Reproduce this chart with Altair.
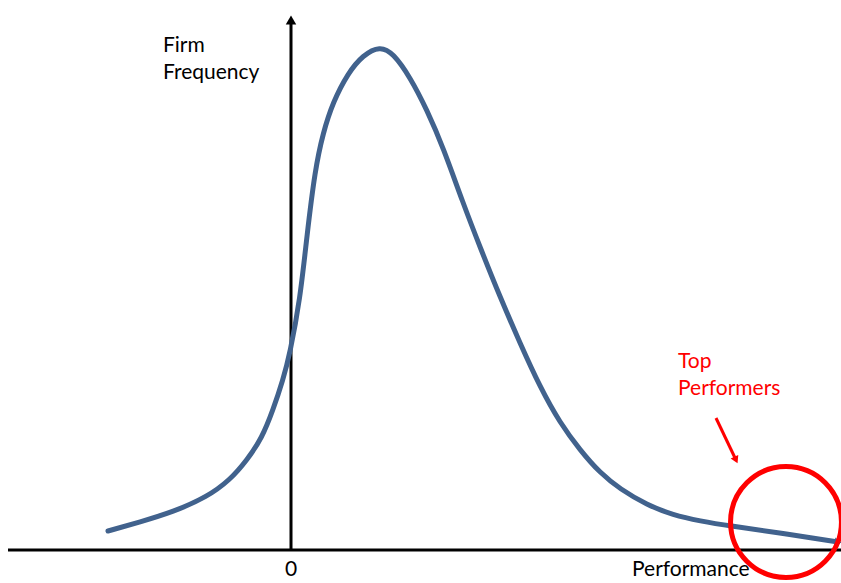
import altair as alt
import pandas as pd

# Curve (performance vs firm frequency)
perf = [-1.83, -1.51, -1.18, -0.84, -0.61, -0.44, -0.29, -0.18, -0.08, -0.01, 0.09, 0.16,
        0.24, 0.32, 0.42, 0.57, 0.72, 0.89, 1.02, 1.19, 1.36, 1.52, 1.72, 1.89,
        2.09, 2.29, 2.49, 2.69, 2.89, 3.09, 3.29, 3.56, 3.82, 4.09, 4.39, 4.89, 5.47]
freq = [0.19, 0.28, 0.38, 0.53, 0.70, 0.90, 1.12, 1.40, 1.70, 1.97, 2.50, 3.15,
        3.80, 4.17, 4.48, 4.77, 4.95, 5.04, 4.97, 4.73, 4.40, 4.03, 3.47, 3.03,
        2.53, 2.07, 1.63, 1.27, 1.00, 0.77, 0.61, 0.45, 0.35, 0.29, 0.24, 0.17, 0.08]

# Axis lines
axis_x1 = [-2.83, 0.0]
axis_x2 = [5.5, 0.0]
axis_y1 = [0.0, 0.0]
axis_y2 = [0.0, 5.30]

# Black texts
txt_label = ["Firm", "Frequency", "Performance"]
txt_x = [-1.28, -1.28, 3.41]
txt_y = [5.04, 4.77, -0.20]
zero_label = ["0"]
zero_x = [0.0]
zero_y = [-0.20]

# Red annotation
red_label = ["Top", "Performers"]
red_x = [3.87, 3.87]
red_y = [1.88, 1.61]
arrow_x1 = [4.25]
arrow_y1 = [1.32]
arrow_x2 = [4.45]
arrow_y2 = [0.90]
circle_x = [4.95]
circle_y = [0.28]

XD = [-2.91, 5.5]
YD = [-0.33, 5.5]
xs = alt.Scale(domain=XD, nice=False, zero=False)
ys = alt.Scale(domain=YD, nice=False, zero=False)

curve_df = pd.DataFrame({"perf": perf, "freq": freq, "order": range(len(perf))})
axes_df = pd.DataFrame({"x1": axis_x1, "x2": axis_x2, "y1": axis_y1, "y2": axis_y2})
txt_df = pd.DataFrame({"label": txt_label, "x": txt_x, "y": txt_y})
zero_df = pd.DataFrame({"label": zero_label, "x": zero_x, "y": zero_y})
red_df = pd.DataFrame({"label": red_label, "x": red_x, "y": red_y})
arrow_df = pd.DataFrame({"x1": arrow_x1, "y1": arrow_y1, "x2": arrow_x2, "y2": arrow_y2})
circle_df = pd.DataFrame({"x": circle_x, "y": circle_y})
ytip_df = pd.DataFrame({"x": [axis_x2[1]], "y": [axis_y2[1]]})
ctip_df = pd.DataFrame({"x": [perf[-1]], "y": [freq[-1]]})

axes = alt.Chart(axes_df).mark_rule(color="black", strokeWidth=3).encode(
    x=alt.X("x1:Q", scale=xs, axis=None), x2="x2:Q",
    y=alt.Y("y1:Q", scale=ys, axis=None), y2="y2:Q")

ytip = alt.Chart(ytip_df).mark_point(shape="triangle-up", filled=True, color="black",
                                     size=110, opacity=1).encode(
    x=alt.X("x:Q", scale=xs, axis=None), y=alt.Y("y:Q", scale=ys, axis=None))

curve = alt.Chart(curve_df).mark_line(color="#41628d", strokeWidth=5, interpolate="basis",
                                      strokeCap="round").encode(
    x=alt.X("perf:Q", scale=xs, axis=None),
    y=alt.Y("freq:Q", scale=ys, axis=None),
    order="order:Q")

ctip = alt.Chart(ctip_df).mark_point(shape="triangle-right", filled=True, color="#41628d",
                                     size=60, opacity=1, angle=10).encode(
    x=alt.X("x:Q", scale=xs, axis=None), y=alt.Y("y:Q", scale=ys, axis=None))

texts = alt.Chart(txt_df).mark_text(align="left", baseline="middle", font="Lato",
                                    fontSize=21, color="black").encode(
    x=alt.X("x:Q", scale=xs, axis=None), y=alt.Y("y:Q", scale=ys, axis=None), text="label:N")

zero = alt.Chart(zero_df).mark_text(align="center", baseline="middle", font="Lato",
                                    fontSize=21, color="black").encode(
    x=alt.X("x:Q", scale=xs, axis=None), y=alt.Y("y:Q", scale=ys, axis=None), text="label:N")

red_txt = alt.Chart(red_df).mark_text(align="left", baseline="middle", font="Lato",
                                      fontSize=21, color="#ff0000").encode(
    x=alt.X("x:Q", scale=xs, axis=None), y=alt.Y("y:Q", scale=ys, axis=None), text="label:N")

arrow = alt.Chart(arrow_df).mark_rule(color="#ff0000", strokeWidth=3).encode(
    x=alt.X("x1:Q", scale=xs, axis=None), x2="x2:Q",
    y=alt.Y("y1:Q", scale=ys, axis=None), y2="y2:Q")

arrow_head = alt.Chart(arrow_df).mark_point(shape="triangle-up", filled=True, color="#ff0000",
                                            size=70, opacity=1, angle=155).encode(
    x=alt.X("x2:Q", scale=xs, axis=None), y=alt.Y("y2:Q", scale=ys, axis=None))

circle = alt.Chart(circle_df).mark_point(shape="circle", filled=False, color="#ff0000",
                                         size=12300, strokeWidth=5, opacity=1).encode(
    x=alt.X("x:Q", scale=xs, axis=None), y=alt.Y("y:Q", scale=ys, axis=None))

chart = alt.layer(axes, ytip, curve, ctip, texts, zero, red_txt, arrow, arrow_head, circle).properties(
    width=841, height=583, padding=0, autosize=alt.AutoSizeParams(type="none"),
    background="white"
).configure_view(stroke=None)

chart.save("out.html", embed_options={"renderer": "svg", "actions": False})
